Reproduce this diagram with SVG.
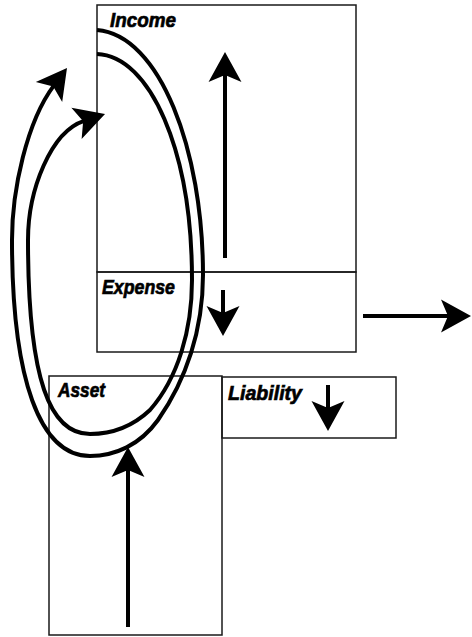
<svg xmlns="http://www.w3.org/2000/svg" width="472" height="637" viewBox="0 0 472 637">
  <style>
    .box { fill: none; stroke: #1a1a1a; stroke-width: 1.5; }
    .lbl { font-family: "Liberation Sans", Arial, sans-serif; font-weight: bold; font-style: italic; font-size: 21px; fill: #000; stroke: #000; stroke-width: 0.7; }
    .flow { fill: none; stroke: #000; stroke-width: 4; marker-end: url(#head); }
  </style>
  <defs>
    <marker id="head" markerUnits="userSpaceOnUse" orient="auto" refX="0" refY="0" markerWidth="40" markerHeight="40" overflow="visible">
      <path d="M22,0 L-8,-16.5 L-1,0 L-8,16.5 Z" fill="#000"/>
    </marker>
  </defs>
  <rect width="472" height="637" fill="#fff"/>
  <g id="income">
    <rect class="box" x="97" y="5" width="259" height="267"/>
    <text class="lbl" x="110" y="27" textLength="66" lengthAdjust="spacingAndGlyphs">Income</text>
  </g>
  <g id="expense">
    <rect class="box" x="97" y="272" width="259" height="80"/>
    <text class="lbl" x="102" y="294" textLength="73" lengthAdjust="spacingAndGlyphs">Expense</text>
  </g>
  <g id="asset">
    <rect class="box" x="49" y="376" width="173" height="259"/>
    <text class="lbl" x="58" y="397" textLength="47" lengthAdjust="spacingAndGlyphs">Asset</text>
  </g>
  <g id="liability">
    <rect class="box" x="222" y="377" width="174" height="61"/>
    <text class="lbl" x="228" y="400" textLength="74" lengthAdjust="spacingAndGlyphs">Liability</text>
  </g>
  <g id="connectors">
    <path class="flow" d="M225,258 L225,74"/>
    <path class="flow" d="M223,290 L223,314"/>
    <path class="flow" d="M363,316 L449,316"/>
    <path class="flow" d="M328,385 L328,409"/>
    <path class="flow" d="M128,627 L128,469"/>
    <path class="flow" d="M97,30 C160,35 203,150 203,275 C203,330 186,380 158,420 C140,445 115,456 90,456 C40,456 12,380 12,240 C12,190 26.8,121.6 53.8,85.6"/>
    <path class="flow" d="M97,54 C150,56 192,150 192,280 C192,330 178,378 150,410 C132,427 112,434 90,434 C50,434 28,380 28,240 C28,190 50.8,131.8 84.1,120.9"/>
  </g>
</svg>
